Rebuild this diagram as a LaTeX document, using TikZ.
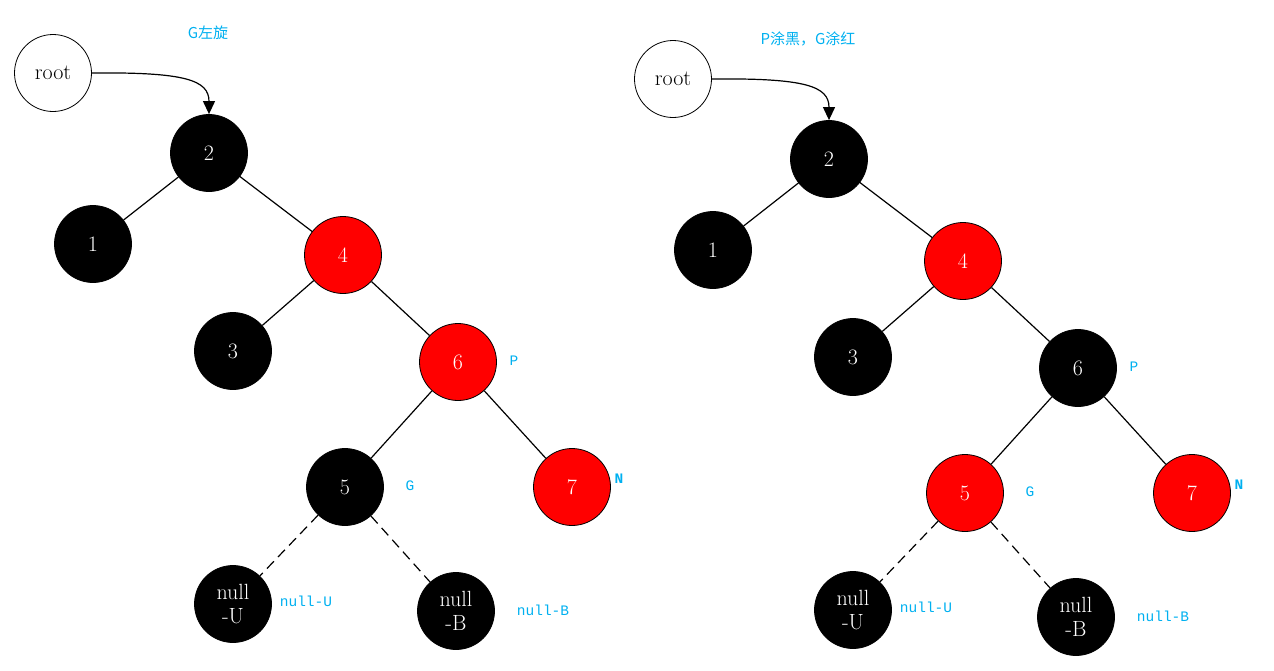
\documentclass[tikz,border=0pt]{standalone}
\usepackage{fontspec}
\newfontfamily\cjk{Noto Sans CJK SC}
\newfontfamily\lblfont{Liberation Mono}
\usetikzlibrary{arrows.meta}
\definecolor{lblblue}{RGB}{0,176,240}
\begin{document}
\begin{tikzpicture}[x=1pt,y=-1pt,
  nd/.style={circle,draw=black,line width=0.8pt,minimum size=77pt,inner sep=0pt,font=\fontsize{22}{24}\selectfont},
  bk/.style={nd,fill=black,text=white},
  rd/.style={nd,fill=red,text=white},
  wh/.style={nd,fill=white,text=black},
  nl/.style={bk,align=center,font=\fontsize{22}{24}\selectfont},
  lbl/.style={text=lblblue,font=\lblfont\fontsize{14.5}{16}\selectfont},
  ttl/.style={text=lblblue,font=\cjk\fontsize{15}{17}\selectfont},
  edge/.style={line width=1.2pt},
  dedge/.style={line width=1.2pt,dash pattern=on 10pt off 6pt}]
\useasboundingbox (0,0) rectangle (1274,670);
\foreach \dx/\dy/\ttext/\tx/\cB/\cS/\cF/\sfx in {0/0/{G左旋}/208/rd/bk/rd/L, 620/6/{P涂黑，G涂红}/808/bk/rd/rd/R}{
  \node[ttl] (title\sfx) at (\tx,33+\dy) {\ttext};
  \node[wh] (root\sfx) at (53+\dx,73+\dy) {root};
  \node[bk] (n2\sfx) at (209+\dx,153+\dy) {2};
  \node[bk] (n1\sfx) at (93+\dx,244+\dy) {1};
  \node[rd] (n4\sfx) at (343+\dx,255+\dy) {4};
  \node[bk] (n3\sfx) at (233+\dx,351+\dy) {3};
  \node[\cB] (n6\sfx) at (458+\dx,362+\dy) {6};
  \node[\cS] (n5\sfx) at (345+\dx,487+\dy) {5};
  \node[\cF] (n7\sfx) at (572+\dx,487+\dy) {7};
  \node[nl] (nu\sfx) at (233+\dx,604+\dy) {null\\-U};
  \node[nl] (nb\sfx) at (456+\dx,611+\dy) {null\\-B};
  \node[lbl] (lP\sfx) at (514+\dx,361+\dy) {P};
  \node[lbl] (lG\sfx) at (410+\dx,486+\dy) {G};
  \node[lbl,font=\lblfont\bfseries\fontsize{14.5}{16}\selectfont] (lN\sfx) at (619+\dx,479+\dy) {N};
  \node[lbl] (lU\sfx) at (306+\dx,601+\dy) {null-U};
  \node[lbl] (lB\sfx) at (543+\dx,610+\dy) {null-B};
  \draw[edge,-{Triangle[length=13pt,width=12pt]}] (root\sfx.east) .. controls (185+\dx,72+\dy) and (209+\dx,80+\dy) .. (n2\sfx.north);
  \draw[edge] (n2\sfx) -- (n1\sfx);
  \draw[edge] (n2\sfx) -- (n4\sfx);
  \draw[edge] (n4\sfx) -- (n3\sfx);
  \draw[edge] (n4\sfx) -- (n6\sfx);
  \draw[edge] (n6\sfx) -- (n5\sfx);
  \draw[edge] (n6\sfx) -- (n7\sfx);
  \draw[dedge] (n5\sfx) -- (nu\sfx);
  \draw[dedge] (n5\sfx) -- (nb\sfx);
}
\end{tikzpicture}
\end{document}
